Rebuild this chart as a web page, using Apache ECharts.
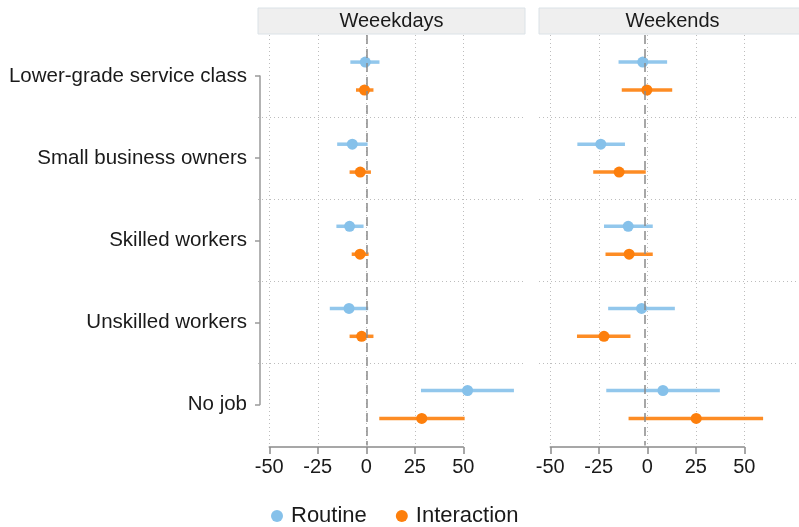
<!DOCTYPE html>
<html>
<head>
<meta charset="utf-8">
<script src="https://cdn.jsdelivr.net/npm/echarts@6/dist/echarts.min.js"></script>
<style>
  html, body { margin: 0; padding: 0; background: #fff; }
  #chart { width: 799px; height: 527px; }
</style>
</head>
<body>
<div id="chart"></div>
<script>
// categories (top to bottom)
const categories = ['Lower-grade service class', 'Small business owners', 'Skilled workers', 'Unskilled workers', 'No job'];
const panels = ['Weeekdays', 'Weekends'];

// Weekdays
const wdRoutineEst = [-0.5, -7.2, -8.6, -8.9, 52.2];
const wdRoutineLo  = [-8.2, -15.0, -15.4, -18.8, 28.2];
const wdRoutineHi  = [6.8, 0.7, -1.4, 1.0, 76.1];
const wdInterEst   = [-0.9, -3.1, -3.2, -2.4, 28.6];
const wdInterLo    = [-5.3, -8.6, -7.5, -8.6, 6.7];
const wdInterHi    = [3.7, 2.4, 1.2, 3.7, 50.7];

// Weekends
const weRoutineEst = [-0.9, -23.1, -8.6, -1.5, 9.8];
const weRoutineLo  = [-13.7, -35.5, -21.4, -19.2, -20.2];
const weRoutineHi  = [12.0, -10.3, 4.4, 16.1, 39.9];
const weInterEst   = [1.3, -13.4, -8.1, -21.4, 27.4];
const weInterLo    = [-12.0, -27.1, -20.6, -35.7, -8.4];
const weInterHi    = [14.7, 0.7, 4.4, -7.4, 62.8];

const BLUE = '#86c1ea';
const ORANGE = '#fd7f0c';
const FONT = '"Liberation Sans", Arial, sans-serif';
const TXT = '#1a1a1a';
const GRIDLINE = { color: '#bdbdbd', type: [1, 3], width: 1 };

// layout
const panelTop = 35, panelH = 410.5, panelW = 267;
const panelLeft = [258, 539];
const xMin = -55.8, xMax = 81.8;
const pxPerUnit = panelW / (xMax - xMin);
const offset = 0.17;

const chart = echarts.init(document.getElementById('chart'), null, { renderer: 'canvas' });

const grids = [];
const xAxes = [];
const yAxes = [];
const series = [];
const graphics = [];

panels.forEach((name, p) => {
    const left = panelLeft[p];
    // data grid
    grids.push({ left: left, top: panelTop, width: panelW, height: panelH });
    xAxes.push({
        gridIndex: p * 2, type: 'value', min: xMin, max: xMax,
        show: false, splitLine: { show: false }
    });
    yAxes.push({
        gridIndex: p * 2, type: 'value', min: 0.5, max: 5.5, interval: 1, inverse: true,
        axisLine: { show: false }, axisTick: { show: false }, axisLabel: { show: false },
        splitLine: { show: true, showMinLine: false, showMaxLine: false, lineStyle: GRIDLINE }
    });
    // tick axis grid (-50..50 only)
    const axLeft = left + (-50 - xMin) * pxPerUnit;
    grids.push({ left: axLeft, top: panelTop, width: 100 * pxPerUnit, height: 412 });
    xAxes.push({
        gridIndex: p * 2 + 1, type: 'value', min: -50, max: 50, interval: 25,
        axisLine: { show: true, lineStyle: { color: '#8a8a8a', width: 1.5 } },
        axisTick: { show: true, length: 7, lineStyle: { color: '#8a8a8a', width: 1.5 } },
        axisLabel: { color: TXT, fontSize: 20, fontFamily: FONT, margin: 10 },
        splitLine: { show: true, lineStyle: GRIDLINE }
    });
    yAxes.push({ gridIndex: p * 2 + 1, type: 'value', min: 0, max: 1, show: false, splitLine: { show: false } });

    // header strip
    graphics.push({
        type: 'rect', shape: { x: left, y: 8, width: panelW, height: 26 },
        style: { fill: '#efefef', stroke: '#dbe2e7', lineWidth: 1 }, silent: true
    });
    graphics.push({
        type: 'text', x: left + panelW / 2, y: 21,
        style: { text: name, fontSize: 20, fontFamily: FONT, fill: TXT, align: 'center', verticalAlign: 'middle' },
        silent: true
    });
});

// category label axis (line spans first to last category)
grids.push({ left: 260, top: panelTop + panelH / 10, width: 1, height: panelH * 0.8 });
xAxes.push({ gridIndex: 4, type: 'value', show: false, splitLine: { show: false } });
yAxes.push({
    gridIndex: 4, type: 'value', min: 1, max: 5, interval: 1, inverse: true,
    axisLine: { show: true, lineStyle: { color: '#9a9a9a', width: 1.5 } },
    axisTick: { show: true, length: 5, lineStyle: { color: '#9a9a9a', width: 1.5 } },
    axisLabel: { color: TXT, fontSize: 20.5, fontFamily: FONT, margin: 13,
        formatter: (v) => categories[v - 1] || '' },
    splitLine: { show: false }
});

function ciSeries(name, color, lo, hi, dy, p) {
    return {
        name: name, type: 'custom', xAxisIndex: p * 2, yAxisIndex: p * 2, z: 2,
        itemStyle: { color: color },
        data: lo.map((l, i) => [l, hi[i], i + 1 + dy]),
        encode: { x: [0, 1], y: 2 },
        renderItem: (params, api) => {
            const a = api.coord([api.value(0), api.value(2)]);
            const b = api.coord([api.value(1), api.value(2)]);
            return {
                type: 'line',
                shape: { x1: a[0], y1: a[1], x2: b[0], y2: b[1] },
                style: { stroke: color, lineWidth: 3.5, opacity: 0.9 }
            };
        }
    };
}

function pointSeries(name, color, est, dy, p) {
    return {
        name: name, type: 'scatter', xAxisIndex: p * 2, yAxisIndex: p * 2, z: 3,
        symbol: 'circle', symbolSize: 11,
        itemStyle: { color: color, opacity: 1 },
        data: est.map((v, i) => [v, i + 1 + dy])
    };
}

const panelData = [
    [wdRoutineEst, wdRoutineLo, wdRoutineHi, wdInterEst, wdInterLo, wdInterHi],
    [weRoutineEst, weRoutineLo, weRoutineHi, weInterEst, weInterLo, weInterHi]
];

panelData.forEach((d, p) => {
    const first = ciSeries('Routine', BLUE, d[1], d[2], -offset, p);
    // dashed reference line at zero
    first.markLine = {
        silent: true, symbol: 'none', label: { show: false },
        lineStyle: { color: '#8a8a8a', type: [9, 5], width: 1.5 },
        data: [{ xAxis: 0 }]
    };
    series.push(first);
    series.push(ciSeries('Interaction', ORANGE, d[4], d[5], offset, p));
    series.push(pointSeries('Routine', BLUE, d[0], -offset, p));
    series.push(pointSeries('Interaction', ORANGE, d[3], offset, p));
});

chart.setOption({
    animation: false,
    backgroundColor: '#fff',
    textStyle: { fontFamily: FONT },
    grid: grids,
    xAxis: xAxes,
    yAxis: yAxes,
    legend: {
        data: ['Routine', 'Interaction'],
        left: 266, top: 500,
        icon: 'circle', itemWidth: 18, itemHeight: 12, itemGap: 29,
        textStyle: { color: TXT, fontSize: 22, fontFamily: FONT }
    },
    graphic: graphics,
    series: series
});
</script>
</body>
</html>
